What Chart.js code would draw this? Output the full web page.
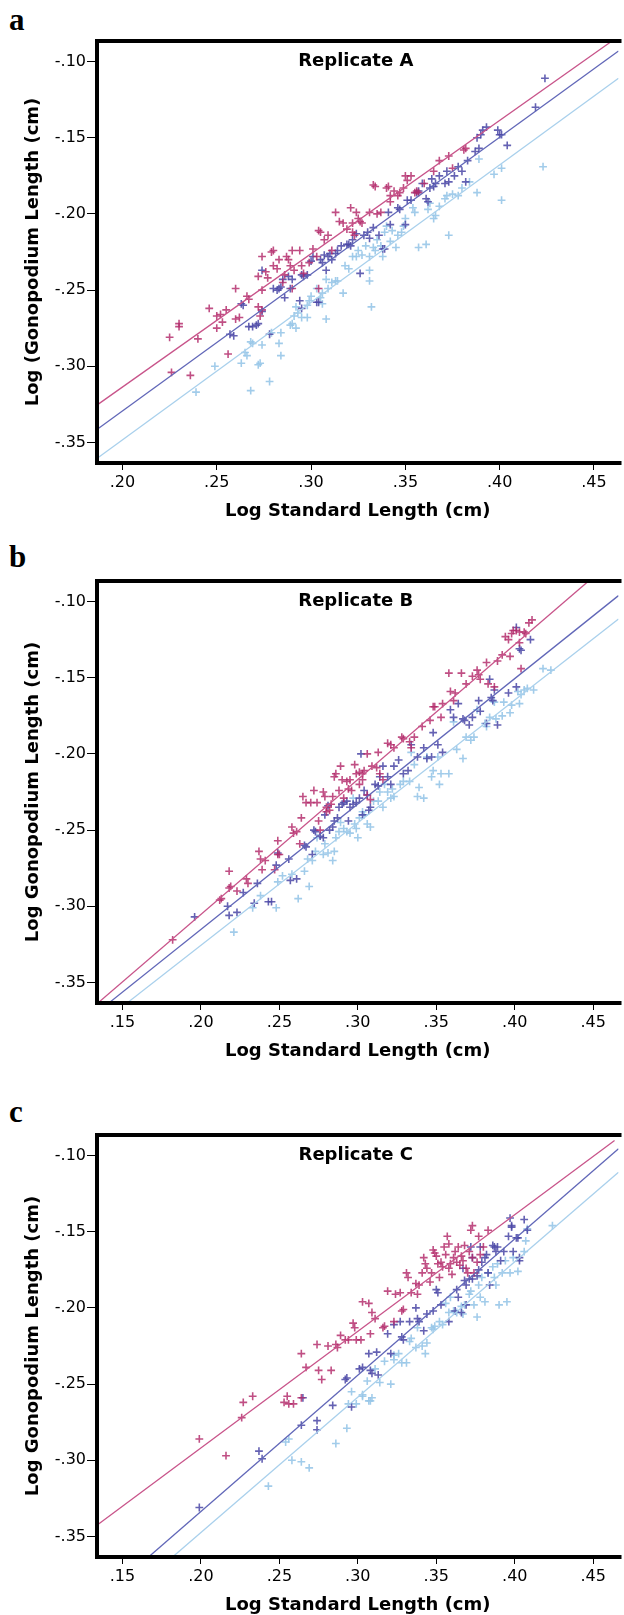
<!DOCTYPE html>
<html>
<head>
<meta charset="utf-8">
<script src="https://cdn.jsdelivr.net/npm/chart.js@4.4.1/dist/chart.umd.min.js"></script>
<style>
html, body { margin: 0; padding: 0; background: #fff; width: 624px; height: 1615px; overflow: hidden; position: relative; }
.panel { position: absolute; left: 0; width: 624px; height: 530px; }
.tag { position: absolute; left: 9px; font: bold 31px "Liberation Serif", "Times New Roman", serif; line-height: 30px; color: #000; }
</style>
</head>
<body>
<div class="tag" style="top:5px">a</div>
<div class="panel" style="top:0px"><canvas id="chartA"></canvas></div>
<div class="tag" style="top:542px">b</div>
<div class="panel" style="top:540px"><canvas id="chartB"></canvas></div>
<div class="tag" style="top:1097px">c</div>
<div class="panel" style="top:1094px"><canvas id="chartC"></canvas></div>

<script>
// axis ticks and ranges
const xTicksA = [0.20, 0.25, 0.30, 0.35, 0.40, 0.45];
const xTicksBC = [0.15, 0.20, 0.25, 0.30, 0.35, 0.40, 0.45];
const yTicks = [-0.10, -0.15, -0.20, -0.25, -0.30, -0.35];
const xRangeA = [0.1865, 0.4630];
const xRangeBC = [0.1338, 0.4661];
const yRange = [-0.3635, -0.0865];

// Replicate A  [log SL, log GL]
const repA_pink = [[.225,-.281],[.226,-.304],[.230,-.272],[.230,-.274],[.236,-.306],[.240,-.282],[.246,-.262],[.250,-.275],[.250,-.267],[.252,-.266],[.253,-.271],[.256,-.292],[.255,-.263],[.260,-.249],[.260,-.269],[.262,-.268],[.266,-.254],[.267,-.256],[.272,-.261],[.272,-.241],[.274,-.228],[.274,-.250],[.274,-.263],[.273,-.267],[.276,-.238],[.277,-.242],[.279,-.225],[.280,-.224],[.280,-.234],[.282,-.236],[.283,-.230],[.285,-.245],[.286,-.240],[.287,-.228],[.288,-.230],[.289,-.234],[.290,-.224],[.290,-.249],[.291,-.237],[.294,-.224],[.295,-.234],[.296,-.239],[.299,-.232],[.301,-.223],[.303,-.228],[.304,-.211],[.305,-.212],[.307,-.217],[.304,-.249],[.309,-.214],[.311,-.224],[.313,-.199],[.315,-.205],[.317,-.206],[.319,-.210],[.321,-.196],[.322,-.212],[.322,-.206],[.323,-.214],[.324,-.199],[.325,-.203],[.326,-.205],[.327,-.206],[.331,-.199],[.333,-.181],[.334,-.182],[.335,-.200],[.337,-.199],[.340,-.183],[.341,-.182],[.342,-.188],[.342,-.192],[.344,-.185],[.346,-.188],[.347,-.186],[.349,-.183],[.350,-.175],[.351,-.178],[.353,-.175],[.355,-.186],[.356,-.185],[.357,-.186],[.360,-.180],[.365,-.172],[.368,-.165],[.373,-.162],[.375,-.170],[.381,-.158],[.382,-.157]];
const repA_blue = [[.257,-.279],[.259,-.280],[.263,-.259],[.264,-.260],[.267,-.274],[.269,-.274],[.271,-.273],[.272,-.272],[.274,-.237],[.274,-.264],[.278,-.279],[.280,-.249],[.282,-.250],[.283,-.249],[.284,-.248],[.285,-.243],[.286,-.255],[.288,-.241],[.289,-.249],[.290,-.243],[.294,-.257],[.295,-.262],[.295,-.240],[.296,-.241],[.298,-.240],[.300,-.231],[.301,-.228],[.303,-.258],[.304,-.258],[.305,-.230],[.306,-.232],[.307,-.227],[.308,-.237],[.309,-.228],[.310,-.226],[.311,-.230],[.313,-.226],[.314,-.224],[.316,-.221],[.319,-.220],[.320,-.220],[.321,-.221],[.322,-.217],[.324,-.213],[.326,-.239],[.328,-.214],[.330,-.212],[.331,-.216],[.333,-.209],[.336,-.214],[.338,-.223],[.339,-.223],[.341,-.199],[.342,-.207],[.346,-.196],[.347,-.197],[.350,-.207],[.351,-.191],[.353,-.191],[.356,-.186],[.357,-.185],[.359,-.180],[.361,-.190],[.362,-.192],[.363,-.183],[.364,-.177],[.365,-.182],[.366,-.180],[.368,-.175],[.371,-.180],[.372,-.172],[.373,-.179],[.376,-.175],[.378,-.169],[.380,-.172],[.382,-.179],[.383,-.165],[.387,-.159],[.388,-.150],[.389,-.157],[.390,-.148],[.391,-.145],[.393,-.143],[.399,-.145],[.400,-.148],[.401,-.148],[.404,-.155],[.419,-.130],[.424,-.111]];
const repA_light = [[.239,-.317],[.249,-.300],[.263,-.298],[.265,-.291],[.266,-.293],[.268,-.284],[.268,-.316],[.269,-.285],[.272,-.299],[.273,-.298],[.274,-.286],[.278,-.310],[.279,-.278],[.283,-.285],[.284,-.293],[.284,-.278],[.289,-.273],[.290,-.272],[.291,-.267],[.292,-.275],[.292,-.261],[.293,-.265],[.295,-.268],[.298,-.268],[.298,-.260],[.299,-.257],[.300,-.254],[.303,-.249],[.305,-.255],[.306,-.259],[.306,-.252],[.308,-.243],[.308,-.269],[.309,-.249],[.311,-.245],[.313,-.244],[.314,-.244],[.317,-.252],[.318,-.234],[.320,-.236],[.322,-.228],[.324,-.228],[.325,-.224],[.327,-.227],[.329,-.221],[.331,-.228],[.331,-.237],[.331,-.244],[.332,-.261],[.333,-.222],[.334,-.224],[.335,-.217],[.337,-.221],[.338,-.228],[.339,-.212],[.340,-.208],[.342,-.218],[.343,-.211],[.345,-.222],[.346,-.214],[.348,-.212],[.349,-.208],[.350,-.203],[.354,-.196],[.355,-.199],[.357,-.222],[.361,-.220],[.362,-.197],[.363,-.193],[.365,-.203],[.366,-.201],[.368,-.195],[.371,-.190],[.372,-.188],[.373,-.214],[.375,-.187],[.378,-.188],[.380,-.183],[.384,-.179],[.388,-.186],[.389,-.164],[.397,-.174],[.401,-.170],[.401,-.191],[.423,-.169]];
const fitA_pink = [[.187,-.325],[.459,-.087]];
const fitA_blue = [[.187,-.341],[.463,-.093]];
const fitA_light = [[.187,-.360],[.463,-.111]];

// Replicate B
const repB_pink = [[.182,-.322],[.212,-.296],[.213,-.295],[.218,-.277],[.218,-.288],[.219,-.287],[.223,-.290],[.229,-.282],[.230,-.285],[.237,-.264],[.238,-.269],[.239,-.276],[.241,-.270],[.247,-.276],[.249,-.257],[.249,-.266],[.250,-.266],[.258,-.248],[.259,-.252],[.261,-.251],[.263,-.259],[.264,-.242],[.265,-.228],[.267,-.232],[.270,-.232],[.272,-.224],[.274,-.232],[.275,-.244],[.276,-.250],[.278,-.225],[.279,-.228],[.280,-.235],[.280,-.238],[.282,-.237],[.283,-.233],[.284,-.228],[.285,-.215],[.286,-.213],[.288,-.224],[.289,-.208],[.290,-.217],[.291,-.229],[.293,-.218],[.294,-.223],[.295,-.217],[.296,-.224],[.298,-.207],[.299,-.213],[.301,-.220],[.301,-.212],[.303,-.213],[.303,-.217],[.304,-.211],[.306,-.227],[.306,-.200],[.308,-.230],[.309,-.208],[.312,-.209],[.313,-.199],[.314,-.213],[.316,-.217],[.319,-.193],[.321,-.194],[.323,-.196],[.328,-.189],[.329,-.190],[.333,-.192],[.334,-.196],[.336,-.189],[.341,-.182],[.346,-.178],[.348,-.169],[.349,-.169],[.353,-.176],[.354,-.167],[.358,-.147],[.359,-.159],[.361,-.165],[.362,-.160],[.366,-.147],[.369,-.154],[.373,-.149],[.376,-.145],[.377,-.148],[.378,-.151],[.382,-.140],[.383,-.154],[.387,-.156],[.389,-.139],[.392,-.135],[.394,-.123],[.396,-.125],[.397,-.136],[.398,-.121],[.399,-.119],[.401,-.119],[.403,-.120],[.403,-.127],[.404,-.144],[.406,-.120],[.407,-.121],[.409,-.114],[.411,-.112]];
const repB_blue = [[.196,-.307],[.217,-.300],[.218,-.306],[.223,-.304],[.227,-.291],[.236,-.285],[.234,-.298],[.243,-.297],[.245,-.297],[.248,-.273],[.249,-.265],[.256,-.269],[.257,-.283],[.261,-.282],[.266,-.260],[.267,-.261],[.271,-.266],[.272,-.250],[.273,-.251],[.276,-.254],[.278,-.255],[.279,-.240],[.281,-.234],[.282,-.250],[.284,-.248],[.285,-.244],[.287,-.242],[.288,-.235],[.290,-.233],[.291,-.232],[.293,-.231],[.294,-.244],[.295,-.235],[.297,-.233],[.299,-.232],[.301,-.229],[.302,-.200],[.303,-.240],[.304,-.224],[.306,-.227],[.307,-.237],[.308,-.235],[.311,-.220],[.313,-.221],[.314,-.215],[.316,-.208],[.319,-.215],[.321,-.220],[.323,-.208],[.326,-.204],[.329,-.213],[.332,-.211],[.334,-.194],[.338,-.202],[.342,-.196],[.344,-.203],[.347,-.202],[.348,-.186],[.351,-.194],[.354,-.199],[.359,-.171],[.361,-.176],[.364,-.167],[.367,-.177],[.368,-.178],[.371,-.181],[.373,-.176],[.377,-.165],[.378,-.172],[.382,-.180],[.384,-.151],[.385,-.163],[.386,-.165],[.387,-.158],[.389,-.181],[.396,-.160],[.401,-.117],[.403,-.131],[.404,-.132],[.410,-.125],[.401,-.156]];
const repB_light = [[.221,-.317],[.233,-.301],[.238,-.293],[.248,-.301],[.249,-.284],[.252,-.280],[.258,-.279],[.262,-.295],[.266,-.277],[.268,-.269],[.269,-.287],[.271,-.270],[.273,-.264],[.274,-.255],[.278,-.266],[.279,-.259],[.281,-.265],[.284,-.270],[.285,-.264],[.286,-.255],[.288,-.251],[.289,-.245],[.291,-.249],[.293,-.251],[.295,-.252],[.297,-.229],[.298,-.246],[.299,-.249],[.300,-.255],[.301,-.242],[.303,-.238],[.304,-.240],[.306,-.246],[.308,-.248],[.310,-.231],[.313,-.231],[.314,-.225],[.316,-.235],[.317,-.220],[.319,-.225],[.321,-.229],[.322,-.223],[.323,-.228],[.327,-.220],[.329,-.218],[.333,-.218],[.334,-.199],[.336,-.207],[.338,-.228],[.339,-.222],[.342,-.229],[.344,-.202],[.347,-.215],[.348,-.211],[.351,-.202],[.352,-.220],[.353,-.213],[.358,-.213],[.361,-.179],[.363,-.197],[.367,-.203],[.369,-.189],[.372,-.191],[.374,-.189],[.376,-.171],[.381,-.180],[.382,-.182],[.384,-.176],[.387,-.166],[.388,-.177],[.392,-.175],[.393,-.166],[.397,-.173],[.398,-.168],[.402,-.159],[.403,-.167],[.404,-.161],[.406,-.158],[.408,-.157],[.412,-.158],[.418,-.144],[.423,-.145]];
const fitB_pink = [[.1346,-.3633],[.4467,-.0869]];
const fitB_blue = [[.1416,-.3633],[.4661,-.0961]];
const fitB_light = [[.1532,-.3633],[.4661,-.1114]];

// Replicate C
const repC_pink = [[.199,-.286],[.216,-.297],[.226,-.272],[.227,-.262],[.233,-.258],[.253,-.262],[.255,-.258],[.256,-.263],[.259,-.263],[.264,-.259],[.264,-.230],[.267,-.239],[.274,-.224],[.275,-.241],[.277,-.247],[.283,-.241],[.281,-.225],[.286,-.224],[.287,-.226],[.289,-.218],[.292,-.221],[.294,-.221],[.297,-.210],[.298,-.213],[.299,-.221],[.302,-.221],[.303,-.196],[.307,-.197],[.308,-.217],[.309,-.203],[.311,-.207],[.316,-.213],[.317,-.212],[.319,-.189],[.323,-.209],[.324,-.191],[.327,-.190],[.328,-.202],[.329,-.201],[.331,-.177],[.332,-.180],[.334,-.190],[.337,-.184],[.338,-.191],[.339,-.185],[.341,-.177],[.342,-.167],[.343,-.171],[.344,-.174],[.347,-.177],[.348,-.162],[.349,-.164],[.350,-.166],[.351,-.171],[.353,-.170],[.354,-.173],[.356,-.165],[.357,-.153],[.358,-.158],[.358,-.174],[.359,-.171],[.361,-.167],[.362,-.163],[.363,-.170],[.364,-.160],[.366,-.166],[.367,-.169],[.368,-.159],[.369,-.174],[.371,-.163],[.372,-.149],[.373,-.146],[.373,-.167],[.374,-.177],[.377,-.153],[.378,-.165],[.383,-.149],[.365,-.172],[.360,-.178],[.352,-.180],[.370,-.177],[.376,-.170],[.380,-.160],[.346,-.183],[.355,-.160]];
const repC_blue = [[.199,-.331],[.237,-.294],[.239,-.299],[.264,-.277],[.265,-.259],[.274,-.274],[.274,-.280],[.284,-.264],[.292,-.247],[.293,-.246],[.296,-.265],[.301,-.240],[.303,-.239],[.307,-.230],[.308,-.241],[.309,-.243],[.312,-.229],[.313,-.244],[.319,-.217],[.321,-.230],[.323,-.211],[.327,-.209],[.328,-.219],[.329,-.221],[.333,-.209],[.337,-.200],[.338,-.207],[.339,-.209],[.342,-.215],[.344,-.204],[.348,-.202],[.350,-.188],[.351,-.190],[.353,-.198],[.358,-.209],[.362,-.202],[.363,-.188],[.364,-.193],[.366,-.203],[.367,-.174],[.368,-.182],[.369,-.185],[.369,-.198],[.371,-.181],[.372,-.160],[.373,-.167],[.373,-.181],[.376,-.179],[.377,-.175],[.378,-.160],[.379,-.170],[.381,-.167],[.382,-.165],[.383,-.177],[.384,-.185],[.386,-.159],[.387,-.160],[.388,-.163],[.389,-.160],[.391,-.169],[.393,-.163],[.396,-.153],[.397,-.141],[.398,-.147],[.398,-.146],[.399,-.163],[.401,-.154],[.402,-.154],[.403,-.169],[.403,-.167],[.406,-.142],[.408,-.149]];
const repC_light = [[.243,-.317],[.254,-.288],[.256,-.286],[.258,-.300],[.264,-.301],[.269,-.305],[.286,-.289],[.293,-.279],[.294,-.263],[.296,-.255],[.299,-.263],[.303,-.257],[.303,-.258],[.306,-.248],[.307,-.261],[.308,-.261],[.309,-.259],[.311,-.240],[.314,-.249],[.317,-.235],[.321,-.250],[.323,-.231],[.323,-.234],[.326,-.230],[.328,-.236],[.331,-.236],[.333,-.222],[.334,-.220],[.337,-.226],[.338,-.213],[.341,-.225],[.343,-.230],[.344,-.223],[.347,-.213],[.348,-.214],[.349,-.212],[.352,-.209],[.354,-.211],[.356,-.197],[.358,-.203],[.359,-.193],[.361,-.202],[.363,-.203],[.366,-.199],[.367,-.204],[.368,-.198],[.371,-.191],[.372,-.189],[.374,-.198],[.376,-.206],[.377,-.185],[.378,-.193],[.379,-.180],[.381,-.196],[.383,-.177],[.386,-.173],[.387,-.180],[.388,-.185],[.389,-.171],[.390,-.198],[.392,-.177],[.394,-.169],[.395,-.196],[.397,-.177],[.399,-.167],[.402,-.176],[.406,-.163],[.407,-.156],[.408,-.148],[.424,-.146]];
const fitC_pink = [[.1346,-.342],[.4636,-.0901]];
const fitC_blue = [[.1672,-.363],[.4661,-.0955]];
const fitC_light = [[.1825,-.363],[.4661,-.1109]];

const PINK = 'rgba(178,40,105,0.82)';
const BLUE = 'rgba(74,70,166,0.85)';
const LIGHT = 'rgba(152,198,232,0.9)';
const PINK_LINE = '#c8548a';
const BLUE_LINE = '#6167b8';
const LIGHT_LINE = '#a9d0ec';

const fmt = v => (v < 0 ? '-' : '') + Math.abs(v).toFixed(2).slice(1);
const toXY = arr => arr.map(p => ({ x: p[0], y: p[1] }));

// black frame on left, top and bottom; the right side runs off the page
const framePlugin = {
    id: 'frame',
    afterDraw(chart) {
        const { ctx, chartArea: a } = chart;
        ctx.save();
        ctx.strokeStyle = '#000';
        ctx.lineWidth = 4;
        ctx.beginPath();
        ctx.moveTo(a.right + 3, a.top);
        ctx.lineTo(a.left, a.top);
        ctx.lineTo(a.left, a.bottom);
        ctx.lineTo(a.right + 3, a.bottom);
        ctx.stroke();
        const t = chart.options.plugins.frame.title;
        ctx.fillStyle = '#000';
        ctx.font = 'bold 18px "DejaVu Sans", sans-serif';
        ctx.textAlign = 'center';
        ctx.textBaseline = 'middle';
        ctx.fillText(t, (a.left + a.right) / 2 - 2, a.top + 20);
        ctx.restore();
    }
};

function scatterSet(pts, color, order) {
    return {
        type: 'scatter', data: toXY(pts), pointStyle: 'cross',
        pointRadius: 3.9, pointBorderWidth: 1.6, borderColor: color, backgroundColor: color,
        pointHoverRadius: 3.9, order: order
    };
}

function fitSet(pts, color) {
    return {
        type: 'line', data: toXY(pts), borderColor: color, borderWidth: 1.3,
        pointRadius: 0, fill: false, order: 0
    };
}

function makePanel(id, title, yTitle, xTicks, xRange, pink, blue, light, fits) {
    const ctx = document.getElementById(id).getContext('2d');
    return new Chart(ctx, {
        type: 'scatter',
        data: {
            datasets: [
                fitSet(fits[0], PINK_LINE),
                fitSet(fits[1], BLUE_LINE),
                fitSet(fits[2], LIGHT_LINE),
                scatterSet(pink, PINK, 1),
                scatterSet(blue, BLUE, 2),
                scatterSet(light, LIGHT, 3)
            ]
        },
        options: {
            responsive: true,
            maintainAspectRatio: false,
            animation: false,
            layout: { padding: { top: 41, left: 0, right: 0, bottom: 0 } },
            plugins: {
                legend: { display: false },
                tooltip: { enabled: false },
                frame: { title: title }
            },
            scales: {
                x: {
                    type: 'linear', min: xRange[0], max: xRange[1],
                    afterBuildTicks: s => { s.ticks = xTicks.map(v => ({ value: v })); },
                    afterFit: s => { s.height = 67; },
                    border: { display: false },
                    grid: { drawOnChartArea: false, drawTicks: true, tickLength: 7, tickColor: '#000', tickWidth: 1 },
                    ticks: { callback: v => fmt(v), color: '#000', padding: 3, maxRotation: 0, autoSkip: false,
                        font: { family: '"DejaVu Sans", sans-serif', size: 16 } },
                    title: { display: true, text: 'Log Standard Length (cm)', color: '#000',
                        font: { family: '"DejaVu Sans", sans-serif', size: 18, weight: 'bold' },
                        padding: { top: 0, bottom: 8 } }
                },
                y: {
                    type: 'linear', min: yRange[0], max: yRange[1],
                    afterBuildTicks: s => { s.ticks = yTicks.map(v => ({ value: v })); },
                    afterFit: s => { s.width = 97; },
                    border: { display: false },
                    grid: { drawOnChartArea: false, drawTicks: true, tickLength: 10, tickColor: '#000', tickWidth: 1 },
                    ticks: { callback: v => fmt(v), color: '#000', padding: 1, autoSkip: false,
                        font: { family: '"DejaVu Sans", sans-serif', size: 16 } },
                    title: { display: true, text: yTitle, color: '#000',
                        font: { family: '"DejaVu Sans", sans-serif', size: 18, weight: 'bold' },
                        padding: { top: 23, bottom: 0 } }
                }
            }
        },
        plugins: [framePlugin]
    });
}

makePanel('chartA', 'Replicate A', 'Log (Gonopodium Length (cm)', xTicksA, xRangeA,
    repA_pink, repA_blue, repA_light, [fitA_pink, fitA_blue, fitA_light]);
makePanel('chartB', 'Replicate B', 'Log Gonopodium Length (cm)', xTicksBC, xRangeBC,
    repB_pink, repB_blue, repB_light, [fitB_pink, fitB_blue, fitB_light]);
makePanel('chartC', 'Replicate C', 'Log Gonopodium Length (cm)', xTicksBC, xRangeBC,
    repC_pink, repC_blue, repC_light, [fitC_pink, fitC_blue, fitC_light]);
</script>
</body>
</html>
